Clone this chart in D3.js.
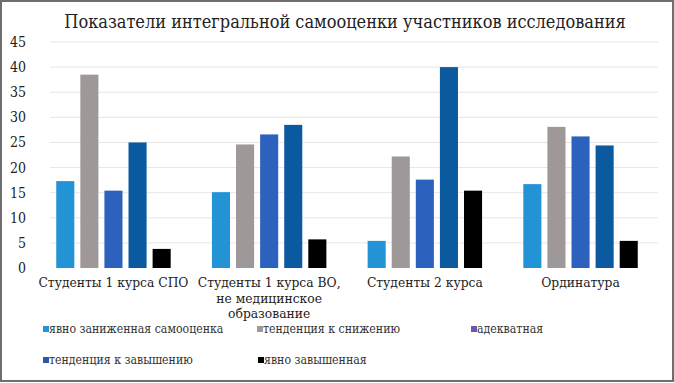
<!DOCTYPE html>
<html>
<head>
<meta charset="utf-8">
<script src="https://cdn.jsdelivr.net/npm/d3@7"></script>
<style>
  body { margin: 0; background: #fff; }
  svg { display: block; }
  text { font-family: "DejaVu Serif Condensed", "DejaVu Serif", serif; font-stretch: condensed; }
</style>
</head>
<body>
<svg id="chart" width="674" height="383"></svg>
<script>
const title = "Показатели интегральной самооценки участников исследования";
const categories = [
  ["Студенты 1 курса СПО"],
  ["Студенты 1 курса ВО,", "не медицинское", "образование"],
  ["Студенты 2 курса"],
  ["Ординатура"]
];
const seriesNames = [
  "явно заниженная самооценка",
  "тенденция к снижению",
  "адекватная",
  "тенденция к завышению",
  "явно завышенная"
];
const zanizhennaya = [17.3, 15.1, 5.4, 16.7];
const snizhenie = [38.5, 24.6, 22.2, 28.1];
const adekvatnaya = [15.4, 26.6, 17.6, 26.2];
const zavyshenie = [25.0, 28.5, 40.0, 24.4];
const zavyshennaya = [3.8, 5.7, 15.4, 5.4];
const yTicks = [0, 5, 10, 15, 20, 25, 30, 35, 40, 45];

const barColors = ["#2294d6", "#9e9898", "#2c62bd", "#0b5aa0", "#000000"];
const legendColors = ["#2294d6", "#9e9898", "#6a58ac", "#2c5a9e", "#000000"];

const series = [zanizhennaya, snizhenie, adekvatnaya, zavyshenie, zavyshennaya];

const svg = d3.select("#chart");
const margin = { left: 36, right: 16, top: 42, bottom: 115 };
const width = 674, height = 383;

svg.append("rect")
  .attr("x", 1).attr("y", 1)
  .attr("width", width - 2).attr("height", height - 3)
  .attr("fill", "#fff")
  .attr("stroke", "#6e6e6e")
  .attr("stroke-width", 2);

const x0 = d3.scaleBand()
  .domain(d3.range(categories.length))
  .range([margin.left, width - margin.right])
  .paddingInner(0.265)
  .paddingOuter(0.13);
const x1 = d3.scaleBand()
  .domain(d3.range(series.length))
  .range([0, x0.bandwidth()])
  .paddingInner(0.25);
const y = d3.scaleLinear().domain([0, 45]).range([268, 42]);

// gridlines
svg.append("g")
  .selectAll("line")
  .data(yTicks.slice(1))
  .join("line")
  .attr("x1", margin.left + 14)
  .attr("x2", width - margin.right)
  .attr("y1", d => y(d))
  .attr("y2", d => y(d))
  .attr("stroke", "#e6e6e6")
  .attr("stroke-width", 1);

// y axis labels
const yAxis = svg.append("g")
  .attr("transform", `translate(26,0)`)
  .call(d3.axisLeft(y).tickValues(yTicks).tickSize(0).tickPadding(0));
yAxis.select(".domain").remove();
yAxis.attr("font-family", null);
yAxis.selectAll("text")
  .attr("font-size", 14)
  .attr("fill", "#222");

// bars
const groups = svg.append("g")
  .selectAll("g")
  .data(categories)
  .join("g")
  .attr("transform", (d, i) => `translate(${x0(i)},0)`);

groups.selectAll("rect")
  .data((d, i) => series.map((s, j) => ({ j, v: s[i] })))
  .join("rect")
  .attr("x", d => x1(d.j))
  .attr("width", x1.bandwidth())
  .attr("y", d => y(d.v))
  .attr("height", d => y(0) - y(d.v))
  .attr("fill", d => barColors[d.j]);

// category labels
const catLabels = svg.append("g")
  .selectAll("text")
  .data(categories)
  .join("text")
  .attr("text-anchor", "middle")
  .attr("font-size", 13.7)
  .attr("fill", "#222")
  .attr("x", (d, i) => x0(i) + x0.bandwidth() / 2)
  .attr("y", 287);
catLabels.selectAll("tspan")
  .data(d => d)
  .join("tspan")
  .attr("x", function () { return d3.select(this.parentNode).attr("x"); })
  .attr("dy", (d, i) => i === 0 ? 0 : 15.5)
  .text(d => d);

// title
svg.append("text")
  .attr("x", 345)
  .attr("y", 28)
  .attr("text-anchor", "middle")
  .attr("font-size", 18)
  .attr("fill", "#222")
  .text(title);

// legend
const legendPos = [[43, 333], [257, 333], [471, 333], [43, 364], [258, 364]];
const legend = svg.append("g")
  .selectAll("g")
  .data(seriesNames)
  .join("g")
  .attr("transform", (d, i) => `translate(${legendPos[i][0]},${legendPos[i][1]})`);
legend.append("rect")
  .attr("x", 0).attr("y", -7)
  .attr("width", 6).attr("height", 6)
  .attr("fill", (d, i) => legendColors[i]);
legend.append("text")
  .attr("x", 6)
  .attr("y", 0)
  .attr("font-size", 12.2)
  .attr("fill", "#333")
  .text(d => d);
</script>
</body>
</html>
